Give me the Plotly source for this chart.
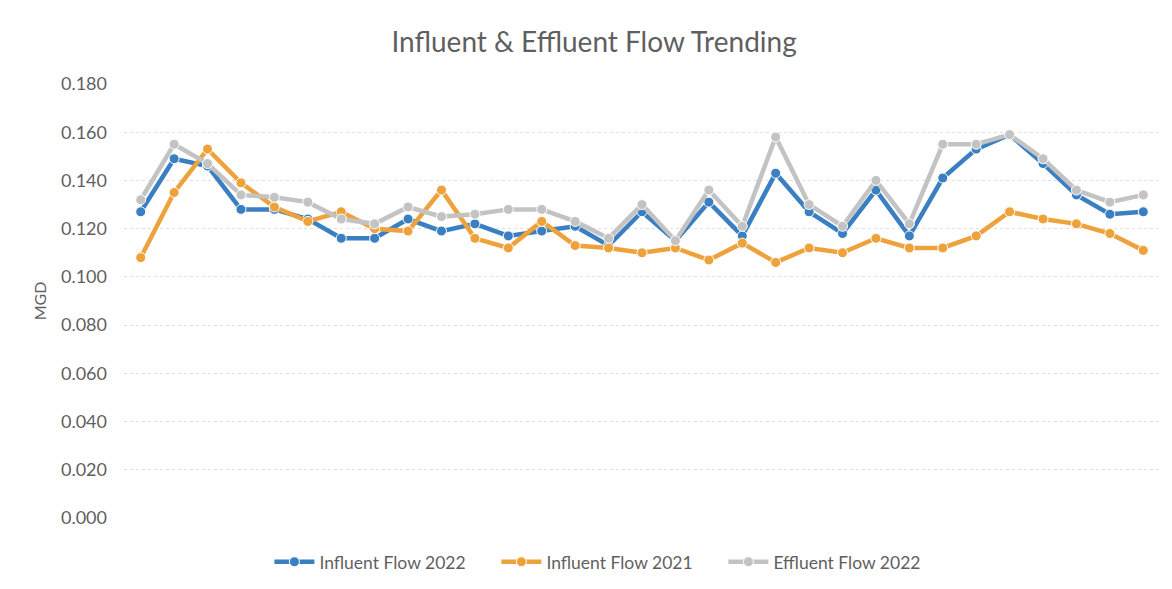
import plotly.graph_objects as go

days = list(range(1, 32))
influent_2022 = [0.127, 0.149, 0.146, 0.128, 0.128, 0.124, 0.116, 0.116, 0.124, 0.119,
                 0.122, 0.117, 0.119, 0.121, 0.113, 0.127, 0.115, 0.131, 0.117, 0.143,
                 0.127, 0.118, 0.136, 0.117, 0.141, 0.153, 0.159, 0.147, 0.134, 0.126, 0.127]
influent_2021 = [0.108, 0.135, 0.153, 0.139, 0.129, 0.123, 0.127, 0.120, 0.119, 0.136,
                 0.116, 0.112, 0.123, 0.113, 0.112, 0.110, 0.112, 0.107, 0.114, 0.106,
                 0.112, 0.110, 0.116, 0.112, 0.112, 0.117, 0.127, 0.124, 0.122, 0.118, 0.111]
effluent_2022 = [0.132, 0.155, 0.147, 0.134, 0.133, 0.131, 0.124, 0.122, 0.129, 0.125,
                 0.126, 0.128, 0.128, 0.123, 0.116, 0.130, 0.115, 0.136, 0.121, 0.158,
                 0.130, 0.121, 0.140, 0.122, 0.155, 0.155, 0.159, 0.149, 0.136, 0.131, 0.134]
y_ticks = [0.0, 0.02, 0.04, 0.06, 0.08, 0.10, 0.12, 0.14, 0.16, 0.18]

series = [
    ("Influent Flow 2022", influent_2022, "#3a7fc1"),
    ("Influent Flow 2021", influent_2021, "#eea23b"),
    ("Effluent Flow 2022", effluent_2022, "#c3c3c3"),
]

FONT = "Lato, 'Open Sans', sans-serif"
TXT = "#5f5f5f"

fig = go.Figure()
for name, vals, col in series:
    fig.add_trace(go.Scatter(
        x=days, y=vals, name=name, mode="lines+markers",
        line=dict(color=col, width=4.5),
        marker=dict(color=col, size=10, line=dict(color="white", width=1)),
    ))

fig.update_layout(
    width=1156, height=573,
    paper_bgcolor="white", plot_bgcolor="white",
    margin=dict(l=116, r=4, t=76, b=63, autoexpand=False),
    font=dict(family=FONT, color=TXT),
    title=dict(text="Influent & Effluent Flow Trending", x=0.507, xanchor="center",
               y=0.9407, yanchor="middle", font=dict(size=28, color=TXT, family=FONT)),
    xaxis=dict(range=[0.5, 31.5], showticklabels=False, showgrid=False,
               zeroline=False, showline=False, ticks=""),
    yaxis=dict(range=[0, 0.18], tickvals=y_ticks, tickformat=".3f",
               showgrid=True, gridcolor="#dedede", griddash="dot", gridwidth=1,
               zeroline=False, showline=False, ticks="", ticklabelstandoff=16,
               tickfont=dict(size=18, color=TXT),
               title=dict(text="MGD", font=dict(size=16, color=TXT), standoff=10)),
    legend=dict(orientation="h", x=0.469, xanchor="center", y=-0.101, yanchor="middle",
                font=dict(size=17.5, color=TXT), itemwidth=40, entrywidth=172),
    showlegend=True,
)

fig.write_html("out.html")
